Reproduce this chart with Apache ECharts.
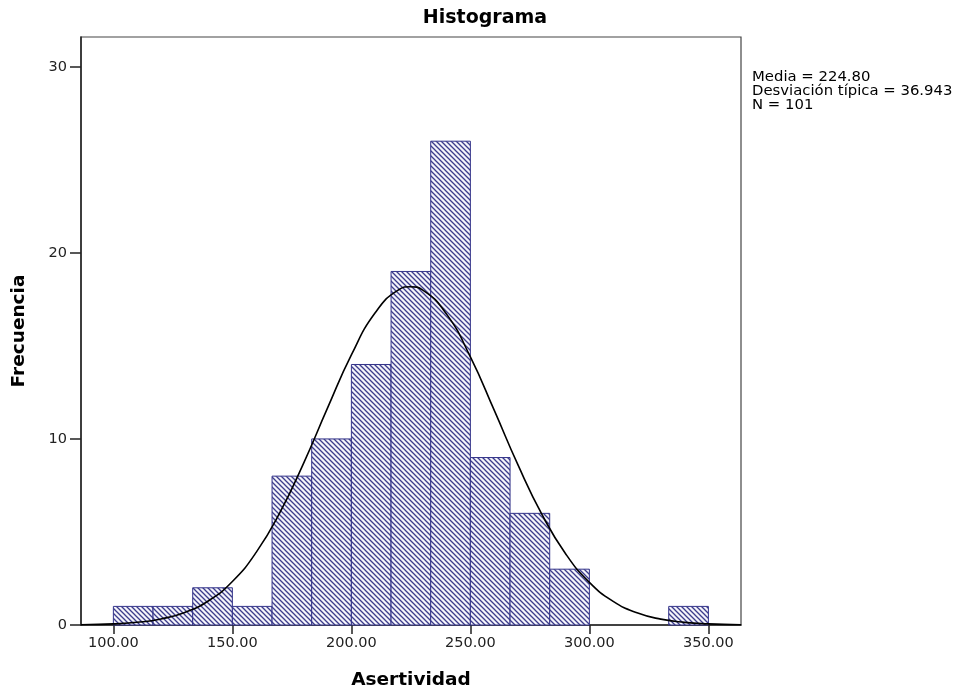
<!DOCTYPE html>
<html>
<head>
<meta charset="utf-8">
<script src="https://cdn.jsdelivr.net/npm/echarts@6/dist/echarts.min.js"></script>
<style>html,body{margin:0;padding:0;background:#fff}#c{width:959px;height:692px}</style>
</head>
<body>
<div id="c"></div>
<script>
// Histogram bins (lower edge, upper edge) and frequencies
const binLow  = [100, 116.67, 133.33, 150, 166.67, 183.33, 200, 216.67, 233.33, 250, 266.67, 283.33, 300, 316.67, 333.33];
const binHigh = [116.67, 133.33, 150, 166.67, 183.33, 200, 216.67, 233.33, 250, 266.67, 283.33, 300, 316.67, 333.33, 350];
const counts  = [1, 1, 2, 1, 8, 10, 14, 19, 26, 9, 6, 3, 0, 0, 1];
// Normal curve
const curveX = [86.4, 90, 100, 110, 120, 130, 140, 150, 160, 170, 180, 190, 200, 210, 220, 224.8, 230, 240, 250, 260, 270, 280, 290, 300, 310, 320, 330, 340, 350, 360, 363.7];
const curveY = [0.016, 0.023, 0.06, 0.145, 0.325, 0.676, 1.305, 2.34, 3.903, 6.05, 8.716, 11.666, 14.513, 16.779, 18.027, 18.18, 18.0, 16.706, 14.406, 11.546, 8.601, 5.954, 3.83, 2.291, 1.273, 0.657, 0.315, 0.141, 0.058, 0.022, 0.016];
const xTicks = [100, 150, 200, 250, 300, 350];
const titleText = 'Histograma';
const xName = 'Asertividad';
const yName = 'Frecuencia';
const statsLines = ['Media = 224.80', 'Desviación típica = 36.943', 'N = 101'];

const tile = document.createElement('canvas');
tile.width = 5; tile.height = 5;
const g = tile.getContext('2d');
g.fillStyle = '#f4f4fa'; g.fillRect(0,0,5,5);
g.strokeStyle = '#3c3c8c'; g.lineWidth = 1.3;
g.beginPath();
g.moveTo(-1,-1); g.lineTo(6,6);
g.moveTo(-1,4); g.lineTo(1,6);
g.moveTo(4,-1); g.lineTo(6,1);
g.stroke();
const pattern = {image: tile, repeat: 'repeat'};

const histData = binLow.map((lo,i)=>[lo, binHigh[i], counts[i]]);
const curveData = curveX.map((x,i)=>[x, curveY[i]]);

const chart = echarts.init(document.getElementById('c'), null, {renderer:'canvas'});
const FONT = '"DejaVu Sans", Verdana, sans-serif';
chart.setOption({
  animation: false,
  backgroundColor: '#fff',
  grid: {left: 81, right: 218, top: 37, bottom: 67, show: true, borderColor: '#444', borderWidth: 1.2, containLabel: false},
  xAxis: {
    type: 'value', min: 86.4, max: 363.7,
    axisLine: {onZero: false, lineStyle: {color: '#222', width: 1.5}},
    axisTick: {show: true, length: 9, customValues: xTicks, lineStyle: {color: '#222', width: 1.5}},
    axisLabel: {customValues: xTicks, formatter: v => v.toFixed(2), fontFamily: FONT, fontSize: 14.5, color: '#222', margin: 11},
    splitLine: {show: false}
  },
  yAxis: {
    type: 'value', min: 0, max: 31.6, interval: 10,
    axisLine: {show: true, lineStyle: {color: '#222', width: 1.5}},
    axisTick: {show: true, length: 11, lineStyle: {color: '#222', width: 1.5}},
    axisLabel: {fontFamily: FONT, fontSize: 14.5, color: '#222', margin: 14, showMaxLabel: false},
    splitLine: {show: false}
  },
  graphic: [
    {type:'text', x: 485, y: 18, style:{text: titleText, font: 'bold 19px ' + FONT, fill:'#000', align:'center', verticalAlign:'middle'}},
    {type:'text', x: 411, y: 680, style:{text: xName, font: 'bold 18.5px ' + FONT, fill:'#000', align:'center', verticalAlign:'middle'}},
    {type:'text', x: 19, y: 331, rotation: Math.PI/2, style:{text: yName, font: 'bold 18.5px ' + FONT, fill:'#000', align:'center', verticalAlign:'middle'}}
  ].concat(statsLines.map((t,i)=>({type:'text', x: 752, y: 77 + i*14, scaleX: 1.1,
    style:{text: t, font: '13.5px ' + FONT, fill: '#000', verticalAlign:'middle'}}))),
  series: [
    {
      type: 'custom', data: histData, z: 2,
      renderItem: function(params, api){
        const lo = api.value(0), hi = api.value(1), c = api.value(2);
        if (!c) return null;
        const p0 = api.coord([lo, c]);
        const p1 = api.coord([hi, 0]);
        return {type: 'rect', shape: {x: p0[0], y: p0[1], width: p1[0]-p0[0], height: p1[1]-p0[1]},
          style: {fill: pattern, stroke: '#34348a', lineWidth: 1}};
      }
    },
    {
      type: 'line', data: curveData, smooth: true, showSymbol: false, z: 5,
      lineStyle: {color: '#000', width: 1.6}
    }
  ]
});
</script>
</body>
</html>
